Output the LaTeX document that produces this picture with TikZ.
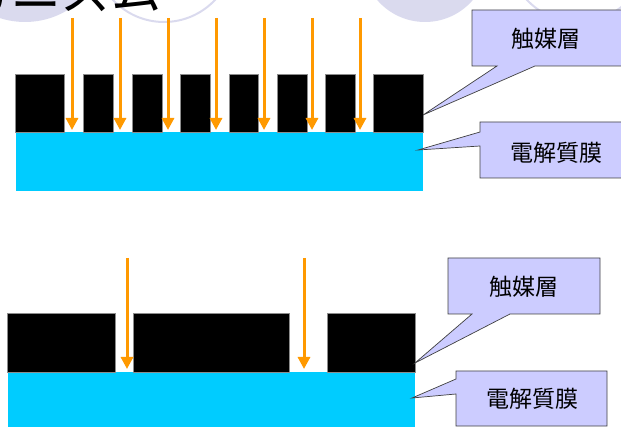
\documentclass[tikz,border=0pt]{standalone}
\usepackage{fontspec}
\newfontfamily\jp{Noto Sans CJK JP}
\usetikzlibrary{arrows.meta}
\definecolor{lav}{RGB}{218,218,238}
\definecolor{callfill}{RGB}{204,204,255}
\definecolor{membrane}{RGB}{0,204,255}
\definecolor{ray}{RGB}{255,153,0}
\tikzset{
  bgfill/.style={fill=lav, draw=none},
  bgring/.style={draw=lav, line width=2pt, fill=none},
  catblock/.style={fill=black, draw=black!45, line width=0.6pt},
  memb/.style={fill=membrane, draw=none},
  rayarrow/.style={draw=ray, line width=3pt, -{Triangle[width=12pt,length=12pt]}},
  callout/.style={fill=callfill, draw=black!75, line width=0.7pt, line join=miter},
  calltext/.style={font=\jp\fontsize{23}{26}\selectfont, inner sep=0pt},
}
\begin{document}
\begin{tikzpicture}[x=1pt,y=-1pt]
\useasboundingbox (0,0) rectangle (621,427);
\clip (0,0) rectangle (621,427);
% background decoration
\fill[bgfill] (25,-60) circle[radius=82];
\draw[bgring] (164,-48) circle[radius=70];
\fill[bgfill] (425,-41) circle[radius=63];
\draw[bgring] (578,-48) circle[radius=70];
% title (cut off by the top edge, as in the reference)
\node[anchor=base east, inner sep=0pt, font=\jp\fontsize{50}{56}\selectfont] (title) at (162,10) {メカニズム};
% ---------- upper diagram ----------
\path[memb] (16,132) rectangle (423,191);
\foreach \a/\b in {15/64,83/113,132/162,180/210,229/258,277/307,325/355,373/423}{
  \path[catblock] (\a,74) rectangle (\b,132);
}
\foreach \x [count=\i] in {72,120,168,216,264,312,360}{
  \coordinate (ts\i) at (\x,18);
  \coordinate (te\i) at (\x,130);
  \draw[rayarrow] (ts\i) -- (te\i);
}
% callouts upper
\draw[callout] (472,10) -- (625,10) -- (625,66) -- (535,66) -- (423,115) -- (497,66) -- (472,66) -- cycle;
\node[calltext] (c1) at (546,39) {触媒層};
\draw[callout] (480,122) -- (625,122) -- (625,178) -- (480,178) -- (480,146) -- (418,150) -- (480,132) -- cycle;
\node[calltext] (e1) at (556,153) {電解質膜};
% ---------- lower diagram ----------
\path[memb] (8,372) rectangle (415,430);
\foreach \a/\b in {7/115,133/289,327/415}{
  \path[catblock] (\a,313) rectangle (\b,372);
}
\foreach \x [count=\i] in {127,304}{
  \coordinate (bs\i) at (\x,258);
  \coordinate (be\i) at (\x,369);
  \draw[rayarrow] (bs\i) -- (be\i);
}
\draw[callout] (448,258) -- (600,258) -- (600,314) -- (510,314) -- (415,363) -- (472,314) -- (448,314) -- cycle;
\node[calltext] (c2) at (524,287) {触媒層};
\draw[callout] (456,371) -- (607,371) -- (607,426) -- (456,426) -- (456,394) -- (412,398) -- (456,379) -- cycle;
\node[calltext] (e2) at (532,399) {電解質膜};
\end{tikzpicture}
\end{document}
